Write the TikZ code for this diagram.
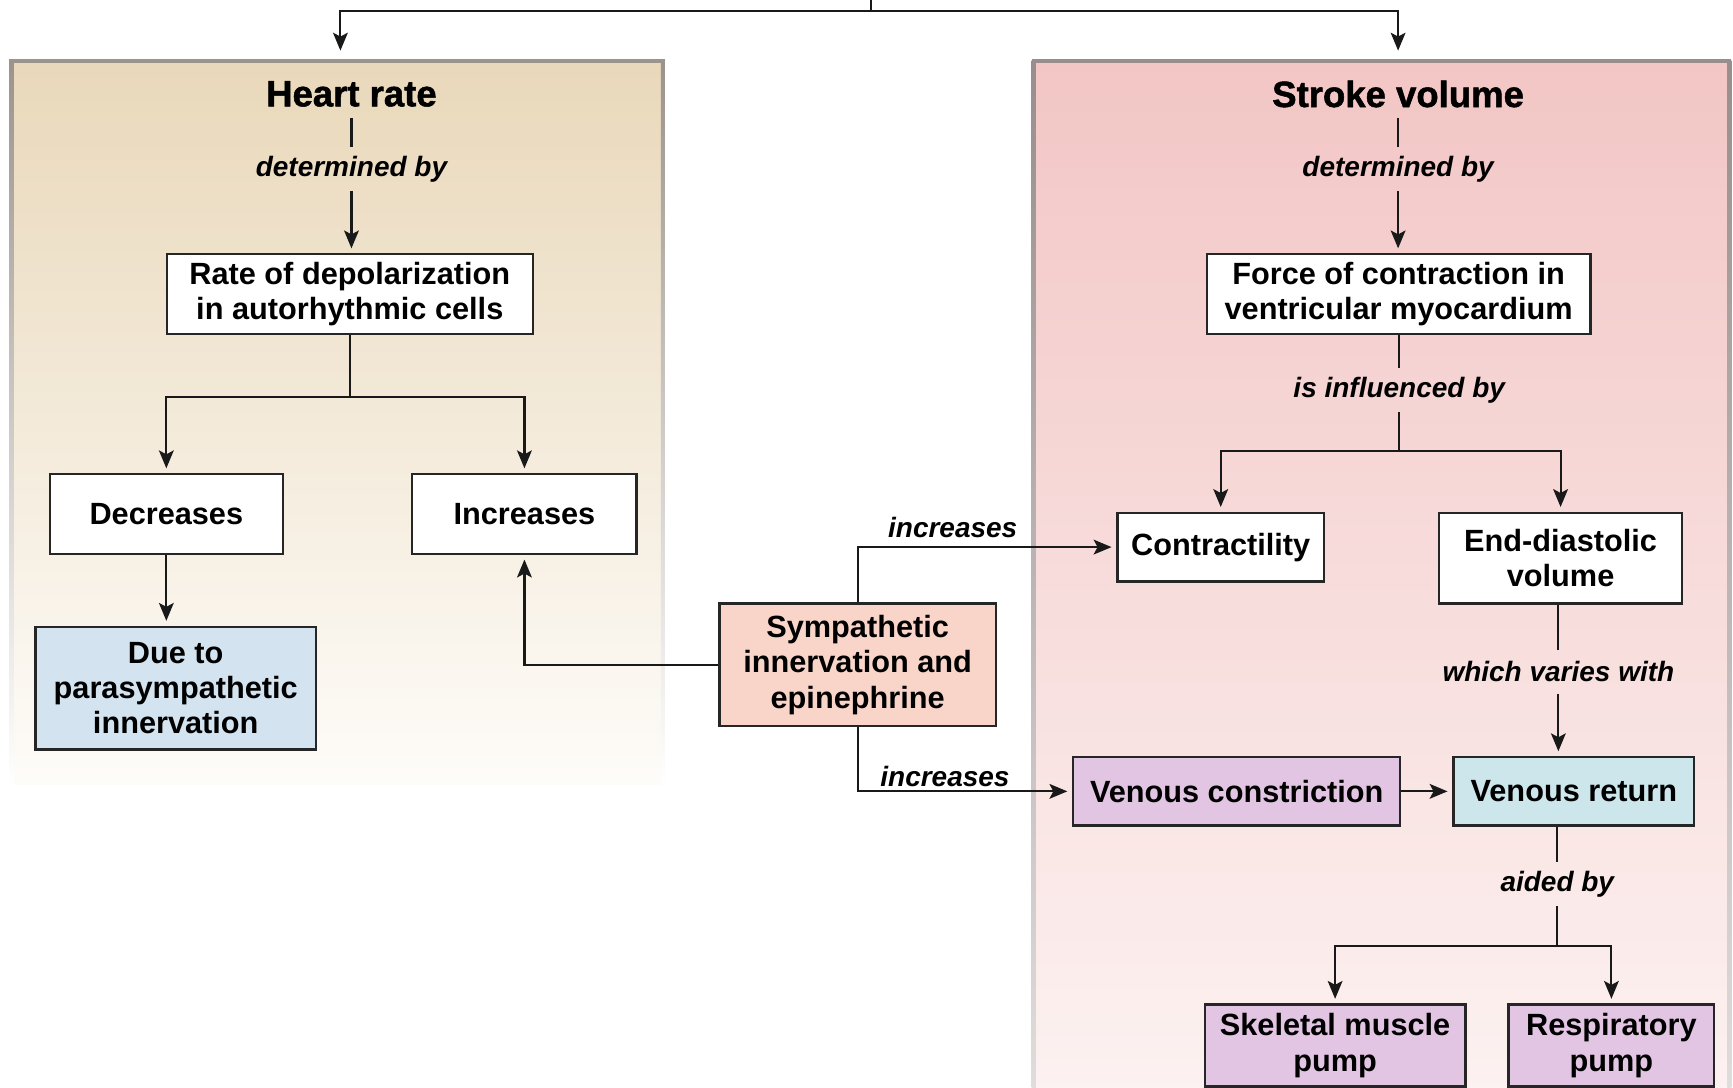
\documentclass[tikz,border=0pt]{standalone}
\usepackage{fontspec}
\setmainfont{Liberation Sans}
\newfontfamily\heavy[FakeBold=1.4]{Liberation Sans Bold}
\usetikzlibrary{arrows.meta,calc}
\definecolor{tanTop}{HTML}{E9D8BA}
\definecolor{tanMid}{HTML}{F1E7D6}
\definecolor{tanBot}{HTML}{FEFCF9}
\definecolor{pinkTop}{HTML}{F2C6C5}
\definecolor{pinkMid}{HTML}{F7DCDC}
\definecolor{pinkBot}{HTML}{FCF2F1}
\definecolor{bgray}{HTML}{9B948D}
\definecolor{pgray}{HTML}{998D8D}
\definecolor{dueC}{HTML}{D3E3F0}
\definecolor{sympC}{HTML}{F9D5C9}
\definecolor{lavC}{HTML}{E2C5E2}
\definecolor{vrC}{HTML}{CCE6EC}
\begin{document}
\begin{tikzpicture}[x=0.01cm,y=-0.01cm,
  box/.style={draw=black!85, line width=0.6pt, align=center, inner sep=0pt,
    font=\fontsize{7.9}{9.1}\selectfont\bfseries, fill=white},
  sz/.style 2 args={minimum width=#1*0.01cm, minimum height=#2*0.01cm},
  lab/.style={font=\fontsize{7.2}{8.5}\selectfont\bfseries\itshape, inner sep=0pt, minimum height=0.38cm},
  ttl/.style={font=\fontsize{9.4}{11}\selectfont\heavy, inner sep=0pt, minimum height=0.42cm},
  conn/.style={draw=black!90, line width=0.55pt},
  arr/.style={conn, -{Stealth[length=4.6pt,width=3.8pt,inset=1pt]}, shorten >=1.2pt}
]
\useasboundingbox (0,0) rectangle (1568,984);
\fill[white] (0,0) rectangle (1568,984);
% panels
\shade[top color=tanTop, middle color=tanMid, bottom color=tanBot] (10,55) rectangle (600,710);
\shade[top color=bgray, bottom color=white] (8.5,55) rectangle (12,712);
\shade[top color=bgray, bottom color=white] (598,55) rectangle (601.5,712);
\fill[bgray] (8.5,53.5) rectangle (601.5,57);
\shade[top color=pinkTop, middle color=pinkMid, bottom color=pinkBot] (935,55) rectangle (1565,990);
\shade[top color=pgray, bottom color=pgray!30] (933.5,55) rectangle (937,990);
\shade[top color=pgray, bottom color=pgray!30] (1563,55) rectangle (1566.5,990);
\fill[pgray] (933.5,53.5) rectangle (1566.5,57);

% top connector
\coordinate (t0) at (788,0);
\coordinate (t1) at (788,10);
\coordinate (hrtop) at (308,50);
\coordinate (svtop) at (1265,50);
\draw[conn] (t0) -- (t1);
\draw[arr] (t1) -| (hrtop);
\draw[arr] (t1) -| (svtop);

% heart rate column
\node[ttl] (hr) at (318,85) {Heart rate};
\node[lab] (dethr) at (318,153) {determined by};
\node[box, sz={331}{72}] (rate) at (316.5,266) {Rate of depolarization\\in autorhythmic cells};
\node[box, sz={211}{72}] (dec) at (150.5,465) {Decreases};
\node[box, sz={203}{72}] (inc) at (474.5,465) {Increases};
\node[box, sz={254}{111}, fill=dueC] (due) at (159,622.5) {Due to\\parasympathetic\\innervation};
\node[box, sz={250}{111}, fill=sympC] (symp) at (776,601.5) {Sympathetic\\innervation and\\epinephrine};

\draw[conn] (hr.south) -- (dethr.north);
\draw[arr] (dethr.south) -- (dethr.south |- rate.north);
\draw[conn] (rate.south) -- ++(0,56) coordinate (rb);
\draw[arr] (rb) -| (dec.north);
\draw[arr] (rb) -| (inc.north);
\draw[arr] (dec.south) -- (dec.south |- due.north);
\draw[arr] (symp.west) -| (inc.south);

% stroke volume column
\node[ttl] (sv) at (1265,85) {Stroke volume};
\node[lab] (detsv) at (1265,153) {determined by};
\node[box, sz={347}{72}] (force) at (1265.5,266) {Force of contraction in\\ventricular myocardium};
\node[lab] (infl) at (1266,353) {is influenced by};
\node[box, sz={187}{62}] (contr) at (1104.5,495) {Contractility};
\node[box, sz={220}{82}] (edv) at (1412,505) {End-diastolic\\volume};
\node[lab] (varies) at (1410,608) {which varies with};
\node[box, sz={296}{62}, fill=lavC] (vc) at (1119,716) {Venous constriction};
\node[box, sz={218}{62}, fill=vrC] (vr) at (1424,716) {Venous return};
\node[lab] (aided) at (1409,800) {aided by};
\node[box, sz={236}{74}, fill=lavC] (skel) at (1208,946) {Skeletal muscle\\pump};
\node[box, sz={186}{74}, fill=lavC] (resp) at (1458,946) {Respiratory\\pump};

\node[lab] (inc1) at (862,477) {increases};
\node[lab] (inc2) at (855,703) {increases};

\draw[conn] (sv.south) -- (detsv.north);
\draw[arr] (detsv.south) -- (detsv.south |- force.north);
\draw[conn] (force.south) -- (force.south |- infl.north);
\draw[conn] (force.south |- infl.south) -- ++(0,35) coordinate (fb);
\draw[arr] (fb) -| (contr.north);
\draw[arr] (fb) -| (edv.north);
\draw[conn] (edv.south -| varies) -- (varies.north);
\draw[arr] (varies.south) -- (varies.south |- vr.north);
\draw[arr] (vc.east) -- (vr.west);
\draw[conn] (vr.south -| aided) -- (aided.north);
\draw[conn] (aided.south) -- ++(0,36) coordinate (ab);
\draw[arr] (ab) -| (skel.north);
\draw[arr] (ab) -| (resp.north);

\draw[arr] (symp.north) |- (contr.west);
\draw[arr] (symp.south) |- (vc.west);
\end{tikzpicture}
\end{document}
